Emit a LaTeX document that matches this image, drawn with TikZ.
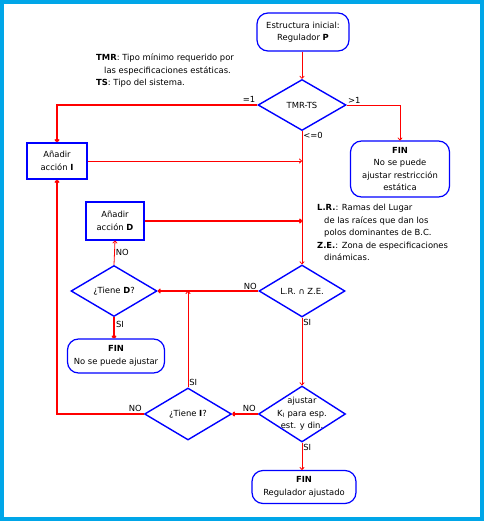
\documentclass[tikz,border=0pt]{standalone}
\usepackage{fontspec}
\setmainfont{DejaVu Sans}
\usetikzlibrary{shapes.geometric,arrows.meta}

\definecolor{marco}{RGB}{0,166,232}
\definecolor{azul}{RGB}{0,0,255}
\definecolor{rojo}{RGB}{255,0,0}

\tikzset{
	texto/.style={font=\fontsize{8.4}{12.5}\selectfont, inner sep=1pt},
	terminal/.style={texto, draw=azul, line width=1.2pt, rounded corners=11pt, align=center},
	accion/.style={texto, draw=azul, line width=2pt, align=center},
	decision/.style={draw=azul, line width=1.4pt, diamond, inner sep=0pt},
	flecha/.style={draw=rojo, line width=0.8pt, -{To[length=3pt,width=5pt]}},
	flechamedia/.style={flecha, line width=1.3pt},
	flechagruesa/.style={flecha, line width=2pt},
}

\begin{document}
\begin{tikzpicture}[x=1pt,y=-1pt]

	% Marco
	\useasboundingbox (0,0) rectangle (484,521);
	\fill [marco] (0,0) rectangle (484,521);
	\fill [white] (4,4) rectangle (480,517);

	% Nodos
	\node [terminal, minimum width=92, minimum height=38] (inicio) at (303,32) {Estructura inicial:\\Regulador \textbf{P}};
	\node [decision, minimum width=88, minimum height=51, label={[texto]center:TMR-TS}] (tmr) at (302,105) {};
	\node [terminal, minimum width=99, minimum height=56] (fin1) at (400,169) {\textbf{FIN}\\No se puede\\ajustar restricción\\estática};
	\node [accion, minimum width=60, minimum height=36] (ai) at (57,161) {Añadir\\acción \textbf{I}};
	\node [accion, minimum width=58, minimum height=37] (ad) at (115,221) {Añadir\\acción \textbf{D}};
	\node [decision, minimum width=86, minimum height=51, label={[texto]center:¿Tiene \textbf{D}?}] (tiened) at (114,291) {};
	\node [decision, minimum width=86, minimum height=52, label={[texto]center:L.R. ∩ Z.E.}] (lrze) at (302,291) {};
	\node [terminal, minimum width=97, minimum height=34] (fin2) at (116,356) {\textbf{FIN}\\No se puede ajustar};
	\node [decision, minimum width=87, minimum height=52, label={[texto]center:¿Tiene \textbf{I}?}] (tienei) at (188,414) {};
	\node [decision, minimum width=87, minimum height=56, label={[texto, align=center]center:ajustar\\K\textsubscript{I} para esp.\\est. y din.}] (ajustar) at (302,414) {};
	\node [terminal, minimum width=104, minimum height=33] (fin3) at (304,487) {\textbf{FIN}\\Regulador ajustado};

	% Leyendas
	\node [texto, align=left, anchor=north west] (leyendatmr) at (95,53) {\textbf{TMR}: Tipo mínimo requerido por\\\hspace{8pt}las especificaciones estáticas.\\\textbf{TS}: Tipo del sistema.};
	\node [texto, align=left, anchor=north west] (leyendalr) at (316,203) {\textbf{L.R.}: Ramas del Lugar\\\hspace{7pt}de las raíces que dan los\\\hspace{7pt}polos dominantes de B.C.\\\textbf{Z.E.}: Zona de especificaciones\\\hspace{7pt}dinámicas.};

	% Conexiones
	\draw [flecha] (inicio.south -| tmr.north) -- (tmr.north);
	\draw [flechagruesa] (tmr.west) node [texto, above left] {=1} -| (ai.north);
	\draw [flecha] (tmr.east) node [texto, above right] {>1} -| (fin1.north);
	\draw [flecha] (tmr.south) node [texto, below right] {<=0} -- (lrze.north);
	\draw [flecha] (ai.east) -- (ai.east -| tmr.south);
	\draw [flechagruesa] (ad.east) -- (ad.east -| tmr.south);
	\draw [flecha] (tiened.north) -- node [texto, right] {NO} (ad.south);
	\draw [flechamedia] (lrze.west) node [texto, above left] {NO} -- (tiened.east);
	\draw [flechagruesa] (tiened.south) -- node [texto, right, pos=0.35] {SI} (tiened.south |- fin2.north);
	\draw [flecha] (lrze.south) node [texto, below right] {SI} -- (ajustar.north);
	\draw [flechagruesa] (ajustar.west) node [texto, above left] {NO} -- (tienei.east);
	\draw [flecha] (tienei.north) node [texto, above right] {SI} -- (tienei.north |- tiened.east);
	\draw [flechagruesa] (tienei.west) node [texto, above left] {NO} -| (ai.south);
	\draw [flecha] (ajustar.south) node [texto, below right] {SI} -- (ajustar.south |- fin3.north);

\end{tikzpicture}
\end{document}
